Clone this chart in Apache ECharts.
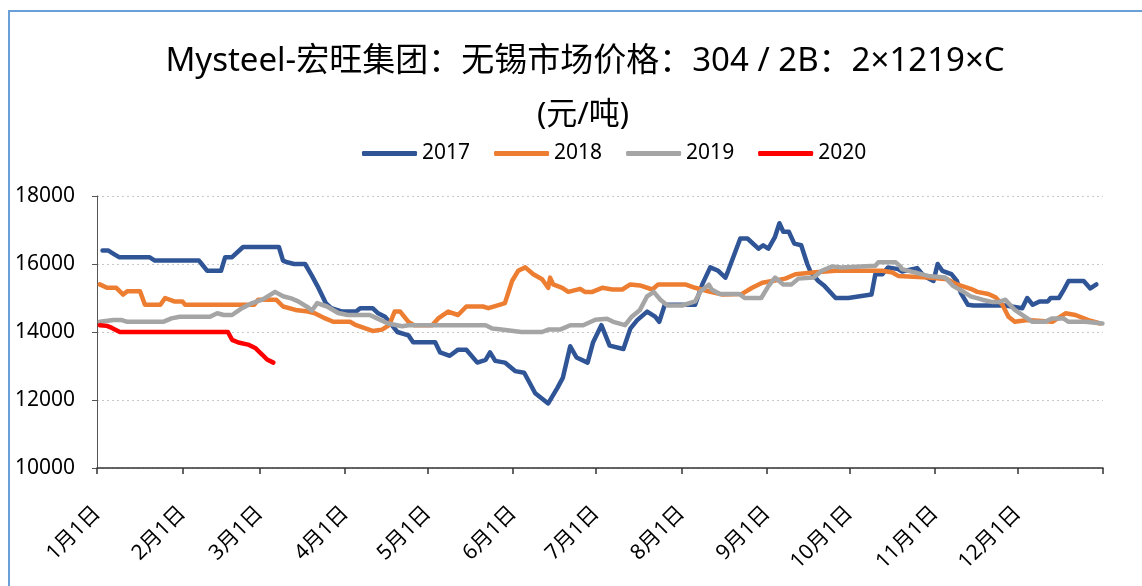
<!DOCTYPE html>
<html>
<head>
<meta charset="utf-8">
<script src="https://cdn.jsdelivr.net/npm/echarts@6/dist/echarts.min.js"></script>
<style>
  html, body { margin: 0; padding: 0; background: #fff; }
  #main { width: 1142px; height: 586px; }
</style>
</head>
<body>
<div id="main"></div>
<script>
// day of year (0 = 1月1日) for each month start, last one closes the year
const monthStarts = [0, 31, 59, 90, 120, 151, 181, 212, 243, 273, 304, 334, 365];
const monthLabels = ['1月1日', '2月1日', '3月1日', '4月1日', '5月1日', '6月1日',
  '7月1日', '8月1日', '9月1日', '10月1日', '11月1日', '12月1日'];
const years = ['2017', '2018', '2019', '2020'];
const colors = ['#2F5597', '#ED7D31', '#A5A5A5', '#FF0000'];

// [day of year, 元/吨]
const s2017 = [[2,16400],[4,16400],[6,16300],[8,16200],[19,16200],[21,16100],[37,16100],[38,16000],[40,15800],[45,15800],
  [46.5,16200],[49,16200],[53,16500],[66,16500],[67.5,16100],[69,16050],[71.5,16000],[75.5,16000],[78,15650],[80,15350],
  [83,14850],[85,14700],[89,14600],[94,14600],[95.5,14700],[100,14700],[102,14550],[104.5,14450],[107,14200],[109,14000],
  [113,13900],[114.7,13700],[122.7,13700],[124.5,13400],[128,13300],[131,13480],[134,13480],[138,13100],[141,13180],[142.6,13400],
  [144.5,13150],[148,13100],[151.7,12850],[155,12800],[159,12200],[163.7,11900],[167,12350],[169,12650],[171.7,13580],[174,13250],
  [178,13100],[180,13700],[183,14200],[186,13600],[191,13500],[193.5,14100],[196,14350],[199.6,14600],[202.5,14450],[204,14300],
  [206,14800],[217,14800],[219.6,15400],[222.5,15900],[225.4,15800],[228,15600],[229,15800],[233.4,16750],[236,16750],[240,16450],
  [241.7,16550],[243.6,16450],[246,16800],[247.6,17200],[249,16950],[251,16950],[253,16600],[255.5,16550],[257.7,16000],[259,15750],
  [261.7,15500],[264,15350],[268,15000],[272.6,15000],[281,15100],[282.4,15700],[285,15700],[287,15900],[290.7,15850],[292,15780],
  [297.6,15880],[300,15650],[303.5,15500],[305,16000],[306.7,15800],[310,15700],[312,15500],[313.4,15150],[316,14800],[318,14780],
  [329.6,14780],[335.7,14700],[337.5,15000],[339.5,14800],[342,14900],[345,14900],[346,15000],[349,15000],[350.5,15200],[352.5,15500],
  [358,15500],[360.4,15280],[362.6,15400]];
const s2018 = [[1,15400],[3.6,15300],[7,15300],[9.5,15100],[11,15200],[15.6,15200],[17.4,14800],[23,14800],[24.7,15000],[28,14900],
  [31,14900],[32,14800],[57,14800],[58.5,14950],[65,14950],[67.5,14750],[72,14650],[76.6,14600],[79,14550],[82.8,14400],
  [85.7,14300],[91.8,14300],[94,14200],[100,14030],[103.4,14070],[106,14200],[108,14600],[110,14600],[113,14300],[115,14200],
  [121.6,14200],[123.8,14400],[127.4,14600],[131,14500],[134,14750],[140,14750],[142,14700],[146,14800],[148,14850],[150.6,15500],
  [152.8,15800],[155.4,15900],[158.3,15700],[161.5,15550],[163.7,15300],[164.4,15600],[165.5,15400],[168.8,15300],[171,15180],[175.3,15270],
  [177,15180],[179.7,15180],[183.3,15300],[187,15250],[190.6,15250],[193.5,15400],[197,15370],[201.5,15250],[203.6,15400],[213.4,15400],
  [217,15300],[221.8,15200],[227,15100],[234,15120],[237.7,15300],[241.4,15450],[245,15500],[249.7,15570],[253.4,15700],[260.6,15760],
  [268,15800],[285,15800],[288.6,15750],[290.7,15650],[301.6,15600],[308.5,15550],[312,15400],[317,15270],[319.4,15180],[323.4,15120],
  [326,15020],[328.5,14800],[330.7,14450],[333,14300],[337.6,14350],[346.6,14300],[351.4,14550],[355,14500],[359.7,14350],[364,14250]];
const s2019 = [[1,14300],[6,14350],[9,14350],[11,14300],[24,14300],[27,14400],[30,14450],[41,14450],[43.6,14550],[46,14500],
  [49,14500],[52.6,14700],[56.3,14850],[60,14950],[64.6,15180],[67.5,15050],[70.8,14980],[73,14900],[76.6,14720],[78,14630],
  [79.9,14850],[83.5,14750],[87.5,14560],[91,14500],[99,14500],[101.6,14400],[105.6,14250],[110.7,14170],[113,14200],[141,14200],
  [143.4,14100],[146,14080],[154,14000],[161.5,14000],[163.7,14070],[168,14070],[171.7,14200],[176.4,14200],[180.8,14360],[185,14390],
  [187.3,14300],[191.6,14200],[194,14450],[197,14650],[199.6,15050],[202,15180],[204.4,14950],[207,14780],[212.3,14780],[217,14900],
  [219,15200],[222,15390],[223,15250],[226,15120],[233,15120],[235,15000],[241,15000],[243.6,15350],[246,15600],[249,15400],
  [252,15400],[254.5,15570],[260,15600],[263,15800],[266.8,15930],[270,15900],[282.4,15950],[283.5,16050],[289.7,16050],[291.5,15930],
  [292,15850],[301.6,15650],[307.8,15600],[310.7,15350],[314,15200],[317,15050],[321.2,14950],[325,14880],[327,14880],[329.6,14950],
  [333,14650],[339.4,14300],[344,14300],[346.6,14400],[350.6,14400],[352.5,14300],[358.6,14300],[364.8,14250]];
const s2020 = [[1,14200],[3.6,14180],[5.4,14120],[8.3,14000],[47.5,14000],[49,13770],[51.3,13690],[54.8,13630],[57.4,13530],[60,13330],
  [61.7,13190],[64,13100]];

const seriesData = [s2017, s2018, s2019, s2020];
const font = '"Noto Sans", "Noto Sans CJK SC", sans-serif';

const chart = echarts.init(document.getElementById('main'));
chart.setOption({
  backgroundColor: '#fff',
  animation: false,
  textStyle: { fontFamily: font },
  graphic: [{
    type: 'rect',
    shape: { x: 9, y: 11, width: 1200, height: 600 },
    style: { fill: 'none', stroke: '#6A9FD8', lineWidth: 2 },
    silent: true
  }],
  title: [{
    text: 'Mysteel-宏旺集团：无锡市场价格：304 / 2B：2×1219×C',
    left: 580, textAlign: 'center', top: 40,
    textStyle: { fontSize: 33, fontWeight: 'normal', color: '#000', fontFamily: font }
  }, {
    text: '(元/吨)',
    left: 578, textAlign: 'center', top: 95,
    textStyle: { fontSize: 31, fontWeight: 'normal', color: '#000', fontFamily: font }
  }],
  legend: {
    data: years,
    left: 357, top: 138,
    icon: 'roundRect',
    itemWidth: 55, itemHeight: 5, itemGap: 24,
    textStyle: { fontSize: 21, color: '#000' }
  },
  grid: { left: 97, right: 39, top: 196, bottom: 118, containLabel: false },
  xAxis: {
    type: 'value',
    min: 0, max: 365,
    axisLine: { lineStyle: { color: '#333', width: 1.5 } },
    axisTick: { show: true, length: 6, customValues: monthStarts, lineStyle: { color: '#333', width: 1.5 } },
    axisLabel: {
      customValues: monthStarts.slice(0, 12),
      formatter: v => monthLabels[monthStarts.indexOf(v)],
      rotate: 45, margin: 42, fontSize: 21, color: '#000'
    },
    splitLine: { show: false }
  },
  yAxis: {
    type: 'value',
    min: 10000, max: 18000, interval: 2000,
    axisLine: { show: true, lineStyle: { color: '#555', width: 1 } },
    axisTick: { show: true, length: 5, lineStyle: { color: '#555' } },
    axisLabel: { fontSize: 21, color: '#000', margin: 22, formatter: v => String(v) },
    splitLine: { show: true, lineStyle: { color: '#C8C8C8', type: [2, 3], width: 1.2 } }
  },
  series: years.map((y, i) => ({
    name: y,
    type: 'line',
    data: seriesData[i],
    showSymbol: false,
    symbol: 'none',
    color: colors[i],
    lineStyle: { width: 4.5, color: colors[i], cap: 'round', join: 'round' }
  }))
});
</script>
</body>
</html>
